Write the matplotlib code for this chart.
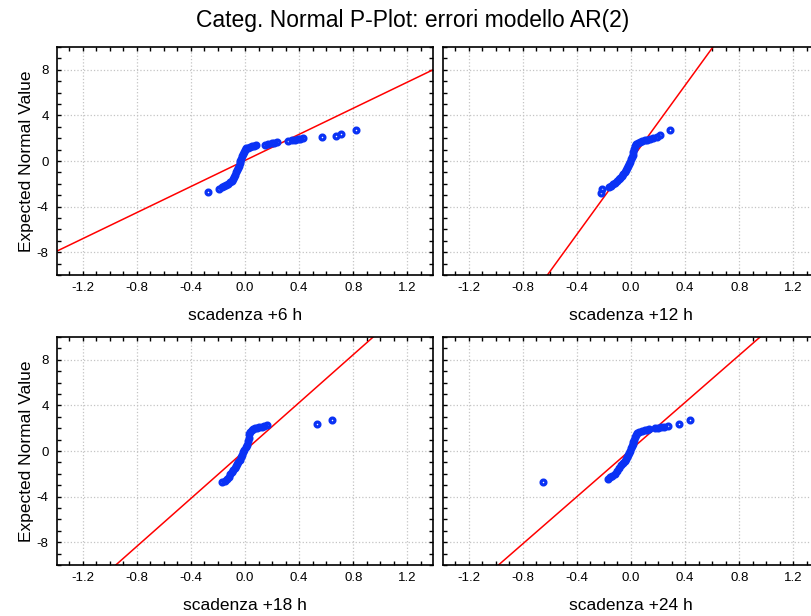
import matplotlib
matplotlib.use('Agg')
import matplotlib.pyplot as plt
import numpy as np
from matplotlib.ticker import MultipleLocator

plt.rcParams['font.family'] = ['Liberation Sans', 'DejaVu Sans']
plt.rcParams['axes.unicode_minus'] = False

title = 'Categ. Normal P-Plot: errori modello AR(2)'
panel_labels = ['scadenza +6 h', 'scadenza +12 h', 'scadenza +18 h', 'scadenza +24 h']
y_label = 'Expected Normal Value'

# residuals (x) and expected normal values (y)
x_6h = [-0.27, -0.19, -0.17, -0.155, -0.14, -0.125, -0.11, -0.098, -0.088, -0.079,
        -0.071, -0.064, -0.058, -0.052, -0.046, -0.04, -0.034, -0.028, -0.021, -0.014,
        -0.007, 0.0, 0.01, 0.022, 0.035, 0.05, 0.065, 0.08, 0.15, 0.17,
        0.2, 0.215, 0.235, 0.32, 0.345, 0.37, 0.39, 0.41, 0.43, 0.57,
        0.67, 0.71, 0.82]
y_6h = [-2.75, -2.48, -2.32, -2.2, -2.08, -1.98, -1.88, -1.78, -1.6, -1.4,
        -1.2, -1.0, -0.8, -0.6, -0.4, -0.2, 0.0, 0.2, 0.4, 0.6,
        0.8, 1.0, 1.1, 1.18, 1.24, 1.29, 1.33, 1.37, 1.42, 1.47,
        1.55, 1.62, 1.68, 1.76, 1.82, 1.87, 1.92, 1.97, 2.02, 2.1,
        2.22, 2.36, 2.72]

x_12h = [-0.222, -0.218, -0.16, -0.145, -0.13, -0.115, -0.1, -0.088, -0.078, -0.068,
         -0.058, -0.048, -0.038, -0.029, -0.021, -0.014, -0.007, 0.0, 0.006, 0.012,
         0.018, 0.024, 0.03, 0.036, 0.05, 0.065, 0.08, 0.1, 0.12, 0.14,
         0.165, 0.19, 0.215, 0.29]
y_12h = [-2.78, -2.48, -2.25, -2.15, -2.05, -1.93, -1.75, -1.6, -1.45, -1.3,
         -1.15, -0.98, -0.8, -0.62, -0.44, -0.26, -0.06, 0.14, 0.34, 0.55,
         0.8, 1.05, 1.28, 1.47, 1.62, 1.7, 1.76, 1.82, 1.88, 1.94,
         2.0, 2.1, 2.24, 2.68]

x_18h = [-0.172, -0.15, -0.135, -0.12, -0.108, -0.097, -0.086, -0.076, -0.067, -0.058,
         -0.049, -0.04, -0.03, -0.021, -0.012, -0.004, 0.004, 0.012, 0.019, 0.026,
         0.032, 0.04, 0.05, 0.06, 0.075, 0.09, 0.105, 0.123, 0.14, 0.16,
         0.536, 0.644]
y_18h = [-2.73, -2.6, -2.44, -2.25, -2.05, -1.88, -1.71, -1.52, -1.34, -1.16,
         -0.98, -0.76, -0.54, -0.32, -0.1, 0.12, 0.34, 0.56, 0.85, 1.15,
         1.45, 1.65, 1.8, 1.92, 1.98, 2.04, 2.09, 2.14, 2.19, 2.24,
         2.38, 2.73]

x_24h = [-0.647, -0.17, -0.155, -0.14, -0.12, -0.105, -0.09, -0.073, -0.06, -0.048,
         -0.038, -0.029, -0.021, -0.014, -0.007, 0.0, 0.006, 0.012, 0.018, 0.024,
         0.03, 0.036, 0.045, 0.06, 0.08, 0.1, 0.12, 0.135, 0.18, 0.2,
         0.22, 0.245, 0.27, 0.356, 0.436]
y_24h = [-2.76, -2.44, -2.3, -2.15, -2.0, -1.75, -1.5, -1.27, -1.08, -0.9,
         -0.72, -0.54, -0.36, -0.18, 0.04, 0.22, 0.4, 0.6, 0.8, 1.0,
         1.2, 1.4, 1.55, 1.7, 1.78, 1.84, 1.88, 1.93, 2.0, 2.05,
         2.1, 2.14, 2.18, 2.38, 2.73]

# reference lines: slope, intercept
line_slope = [5.72, 16.34, 10.51, 10.34]
line_intercept = [0.05, 0.1, 0.04, 0.13]

xs = [x_6h, x_12h, x_18h, x_24h]
ys = [y_6h, y_12h, y_18h, y_24h]

blue = '#0a32f5'
red = '#ff0000'

fig = plt.figure(figsize=(8.11, 6.16), dpi=100)

W = 376 / 811
H = 228 / 616
lefts = [57 / 811, 443 / 811, 57 / 811, 443 / 811]
bottoms = [1 - 275 / 616, 1 - 275 / 616, 1 - 565 / 616, 1 - 565 / 616]

for i in range(4):
    ax = fig.add_axes([lefts[i], bottoms[i], W, H])
    ax.set_xlim(-1.39, 1.39)
    ax.set_ylim(-10, 10)
    ax.set_xticks([-1.2, -0.8, -0.4, 0.0, 0.4, 0.8, 1.2])
    ax.set_xticklabels(['-1.2', '-0.8', '-0.4', '0.0', '0.4', '0.8', '1.2'])
    ax.set_yticks([-8, -4, 0, 4, 8])
    ax.xaxis.set_minor_locator(MultipleLocator(0.1))
    ax.yaxis.set_minor_locator(MultipleLocator(1))
    ax.tick_params(which='both', direction='in', top=True, right=True,
                   length=3, width=1, labelsize=9.5)
    ax.tick_params(axis='x', pad=5)
    ax.tick_params(axis='y', pad=6)
    ax.grid(True, which='major', linestyle=':', color='#c4c4c4', linewidth=0.9)
    ax.set_axisbelow(True)
    for sp in ax.spines.values():
        sp.set_linewidth(1.2)

    line_x = np.array([-1.39, 1.39])
    ax.plot(line_x, line_slope[i] * line_x + line_intercept[i], color=red, linewidth=1.1)
    ax.plot(xs[i], ys[i], 'o', mfc='none', mec=blue, ms=3.5, mew=2.3)

    ax.set_xlabel(panel_labels[i], fontsize=12.5, va='center')
    ax.xaxis.set_label_coords(0.5, -0.178)
    if i % 2 == 0:
        ax.set_ylabel(y_label, fontsize=12.5, va='center')
        ax.yaxis.set_label_coords(-0.08, 0.5)
    else:
        ax.set_yticklabels([])

fig.text(0.509, 0.967, title, fontsize=16.5, ha='center', va='center')

fig.savefig('out.png', dpi=100)
